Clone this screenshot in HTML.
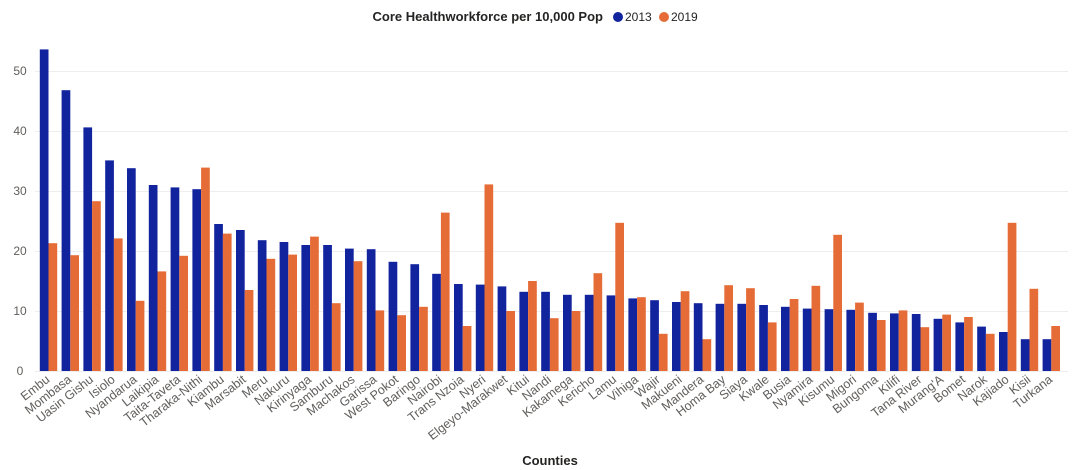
<!DOCTYPE html>
<html><head><meta charset="utf-8"><style>
body{margin:0;background:#fff;}
svg{display:block;font-family:"Liberation Sans",sans-serif;}
</style></head><body>
<svg id="chart" width="1073" height="470">
<text x="603" y="21" font-size="13" font-weight="bold" fill="#252423" text-anchor="end">Core Healthworkforce per 10,000 Pop</text>
<g>
<circle cx="618" cy="17" r="5" fill="#12239E"/>
<text x="625" y="21" font-size="12" fill="#252423">2013</text>
<circle cx="664" cy="17" r="5" fill="#E66C37"/>
<text x="671" y="21" font-size="12" fill="#252423">2019</text>
</g>
<text x="550" y="465" font-size="13" font-weight="bold" fill="#252423" text-anchor="middle">Counties</text>
<g id="grid"></g><g id="bars"></g><g id="xlabels"></g>
</svg>
<script>
const categories=["Embu","Mombasa","Uasin Gishu","Isiolo","Nyandarua","Laikipia","Taita-Taveta","Tharaka-Nithi","Kiambu","Marsabit","Meru","Nakuru","Kirinyaga","Samburu","Machakos","Garissa","West Pokot","Baringo","Nairobi","Trans Nzoia","Nyeri","Elgeyo-Marakwet","Kitui","Nandi","Kakamega","Kericho","Lamu","Vihiga","Wajir","Makueni","Mandera","Homa Bay","Siaya","Kwale","Busia","Nyamira","Kisumu","Migori","Bungoma","Kilifi","Tana River","Murang'A","Bomet","Narok","Kajiado","Kisii","Turkana"];
const values2013=[53.6,46.8,40.6,35.1,33.8,31,30.6,30.3,24.5,23.5,21.8,21.5,21,21,20.4,20.3,18.2,17.8,16.2,14.5,14.4,14.1,13.2,13.2,12.7,12.7,12.6,12.1,11.8,11.5,11.3,11.2,11.2,11,10.7,10.4,10.3,10.2,9.7,9.6,9.5,8.7,8.1,7.4,6.5,5.3,5.3];
const values2019=[21.3,19.3,28.3,22.1,11.7,16.6,19.2,33.9,22.9,13.5,18.7,19.4,22.4,11.3,18.3,10.1,9.3,10.7,26.4,7.5,31.1,10,15,8.8,10,16.3,24.7,12.3,6.2,13.3,5.3,14.3,13.8,8.1,12,14.2,22.7,11.4,8.5,10.1,7.3,9.4,9,6.2,24.7,13.7,7.5];
const yTicks=[0,10,20,30,40,50];
const NS="http://www.w3.org/2000/svg";
const y=v=>371-v*6;
const x=i=>48.5+i*21.8;
const grid=document.getElementById('grid'),bars=document.getElementById('bars'),xl=document.getElementById('xlabels');
function mk(tag,at,parent){const e=document.createElementNS(NS,tag);for(const k in at)e.setAttribute(k,at[k]);parent.appendChild(e);return e;}
yTicks.forEach(t=>{
 const l=mk('line',{x1:35,x2:1068,y1:y(t)+0.5,y2:y(t)+0.5,stroke:'#eeeeee','stroke-width':1},grid);
 
 
 const tx=mk('text',{x:20,y:y(t)+4,'font-size':12,fill:'#605E5C','text-anchor':'middle'},grid);
 tx.textContent=t;
 
 
});
categories.forEach((c,i)=>{
 const b1=mk('rect',{x:x(i)-8.7,y:y(values2013[i]),width:8.7,height:values2013[i]*6,fill:'#12239E'},bars);
 
 
 const b2=mk('rect',{x:x(i),y:y(values2019[i]),width:8.7,height:values2019[i]*6,fill:'#E66C37'},bars);
 
 
 const t=mk('text',{'font-size':12.5,fill:'#605E5C','text-anchor':'end',transform:`translate(${x(i)+2},381) rotate(-38)`},xl);
 t.textContent=c;
 
 
});
</script>
</body></html>
